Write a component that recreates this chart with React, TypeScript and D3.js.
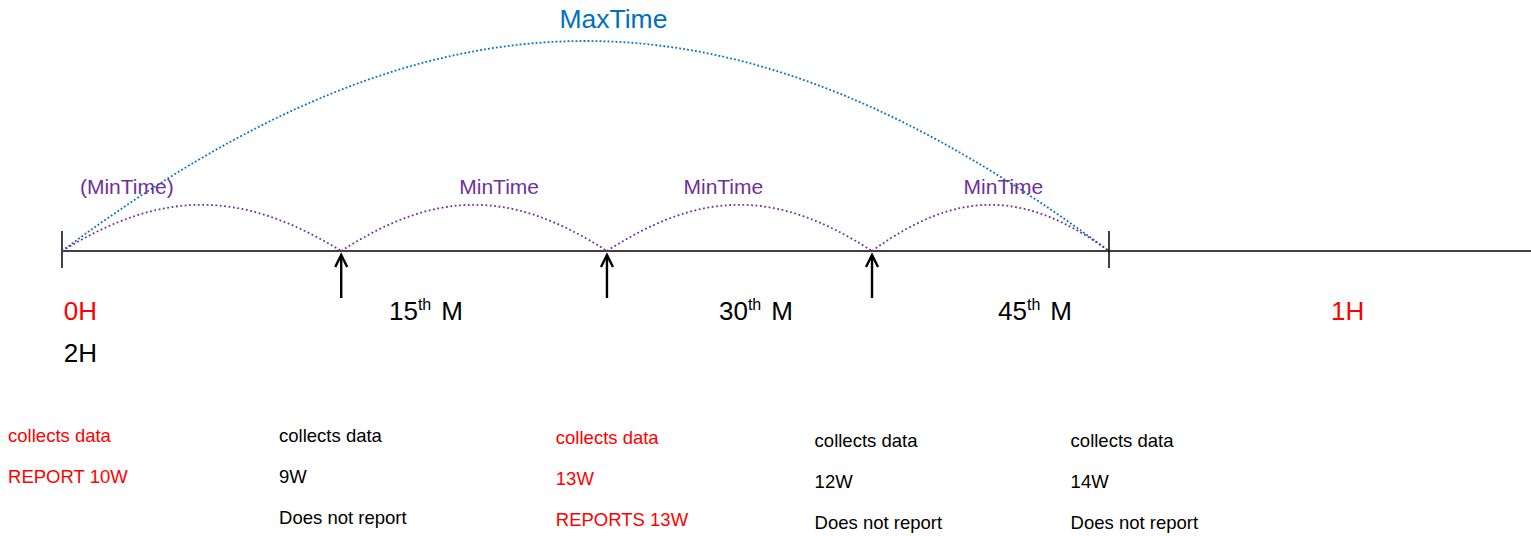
import React, { useMemo } from 'react'
import * as d3 from 'd3'

// time axis in minutes (positions read off the picture, not evenly spaced)
const axisStart = 0
const axisHourEnd = 60
const axisFarEnd = 84.2
const arrowTimes = [16, 31.23, 46.42]

// MinTime hops between consecutive report points
const minTimeSpans: [number, number][] = [
  [0, 16],
  [16, 31.23],
  [31.23, 46.42],
  [46.42, 60],
]
const minTimeLabels = ['(MinTime)', 'MinTime', 'MinTime', 'MinTime']
const minTimeLabelAt = [1.03, 25.05, 37.9, 53.95]
const minTimeHeight = 0.22

const maxTimeSpan: [number, number] = [0, 60]
const maxTimeLabel = 'MaxTime'
const maxTimeLabelAt = 31.6
const maxTimeHeight = 1

interface TimeLabel {
  at: number
  main: string
  sup?: string
  tail?: string
  red: boolean
}
const timeLabels: TimeLabel[] = [
  { at: 0.1, main: '0H', red: true },
  { at: 18.74, main: '15', sup: 'th', tail: 'M', red: false },
  { at: 37.65, main: '30', sup: 'th', tail: 'M', red: false },
  { at: 53.64, main: '45', sup: 'th', tail: 'M', red: false },
  { at: 72.72, main: '1H', red: true },
]
const secondLineLabel = '2H'

// what happens at each collection point
const columnAt = [-3.09, 12.44, 28.3, 43.13, 57.8]
const columnLines = [
  ['collects data', 'REPORT 10W'],
  ['collects data', '9W', 'Does not report'],
  ['collects data', '13W', 'REPORTS 13W'],
  ['collects data', '12W', 'Does not report'],
  ['collects data', '14W', 'Does not report'],
]
const columnRed = [true, false, true, false, false]

const WIDTH = 1531
const HEIGHT = 536
const FONT = '"Liberation Sans", Arial, Helvetica, sans-serif'
const PURPLE = '#7030A0'
const BLUE = '#0070C0'
const RED = '#FF0000'
const columnDrop = [0, 0, 2, 5, 5] // layout only

function humpPath(x0: number, x1: number, yBase: number, yTop: number) {
  const w = x1 - x0
  const k = (yBase - yTop) * (4 / 3)
  const p = d3.path()
  p.moveTo(x0, yBase)
  p.bezierCurveTo(x0 + w * 0.36, yBase - k, x1 - w * 0.36, yBase - k, x1, yBase)
  return p.toString()
}

const App: React.FC = () => {
  const x = useMemo(
    () => d3.scaleLinear().domain([axisStart, axisHourEnd]).range([62, 1109]),
    []
  )
  const y = useMemo(() => d3.scaleLinear().domain([0, maxTimeHeight]).range([251, 41]), [])

  const axisY = y(0)

  return (
    <div style={{ position: 'absolute', left: 0, top: 0 }}>
      <svg width={WIDTH} height={HEIGHT} style={{ display: 'block', background: '#fff' }} fontFamily={FONT}>
        {/* main time line */}
        <line x1={x(axisStart)} x2={x(axisFarEnd)} y1={axisY} y2={axisY} stroke="#000" strokeWidth={1.5} />
        {[axisStart, axisHourEnd].map(t => (
          <line key={t} x1={x(t)} x2={x(t)} y1={axisY - 20} y2={axisY + 17} stroke="#000" strokeWidth={1.5} />
        ))}

        {/* MaxTime arc */}
        <path
          d={humpPath(x(maxTimeSpan[0]), x(maxTimeSpan[1]), axisY, y(maxTimeHeight))}
          fill="none"
          stroke={BLUE}
          strokeWidth={1.8}
          strokeDasharray="1.8 2.2"
        />
        <text x={x(maxTimeLabelAt)} y={28} textAnchor="middle" fontSize={26.5} fill={BLUE}>
          {maxTimeLabel}
        </text>

        {/* MinTime arcs */}
        {minTimeSpans.map(([a, b], i) => (
          <path
            key={i}
            d={humpPath(x(a), x(b), axisY, y(minTimeHeight))}
            fill="none"
            stroke={PURPLE}
            strokeWidth={1.8}
            strokeDasharray="1.8 2.6"
          />
        ))}
        {minTimeLabels.map((lbl, i) => (
          <text
            key={i}
            x={x(minTimeLabelAt[i])}
            y={194}
            textAnchor={i === 0 ? 'start' : 'middle'}
            fontSize={21}
            fill={PURPLE}
          >
            {lbl}
          </text>
        ))}

        {/* arrows at report points */}
        {arrowTimes.map(t => (
          <g key={t} stroke="#000" strokeWidth={2.4} fill="none">
            <line x1={x(t)} x2={x(t)} y1={298} y2={255} />
            <polyline points={`${x(t) - 6},${267} ${x(t)},${255} ${x(t) + 6},${267}`} />
          </g>
        ))}

        {/* time labels */}
        {timeLabels.map((l, i) => (
          <text key={i} x={x(l.at)} y={320} fontSize={26} fill={l.red ? RED : '#000'}>
            {l.main}
            {l.sup && (
              <tspan fontSize={16} dy={-10}>
                {l.sup}
              </tspan>
            )}
            {l.tail && (
              <tspan dx={10} dy={10}>
                {l.tail}
              </tspan>
            )}
          </text>
        ))}
        <text x={x(timeLabels[0].at)} y={362} fontSize={26} fill="#000">
          {secondLineLabel}
        </text>

        {/* per-column descriptions */}
        {columnLines.map((lines, ci) =>
          lines.map((txt, li) => (
            <text
              key={`${ci}-${li}`}
              x={x(columnAt[ci])}
              y={442 + columnDrop[ci] + li * 41}
              fontSize={18.5}
              fill={columnRed[ci] ? RED : '#000'}
            >
              {txt}
            </text>
          ))
        )}
      </svg>
    </div>
  )
}

export default App
